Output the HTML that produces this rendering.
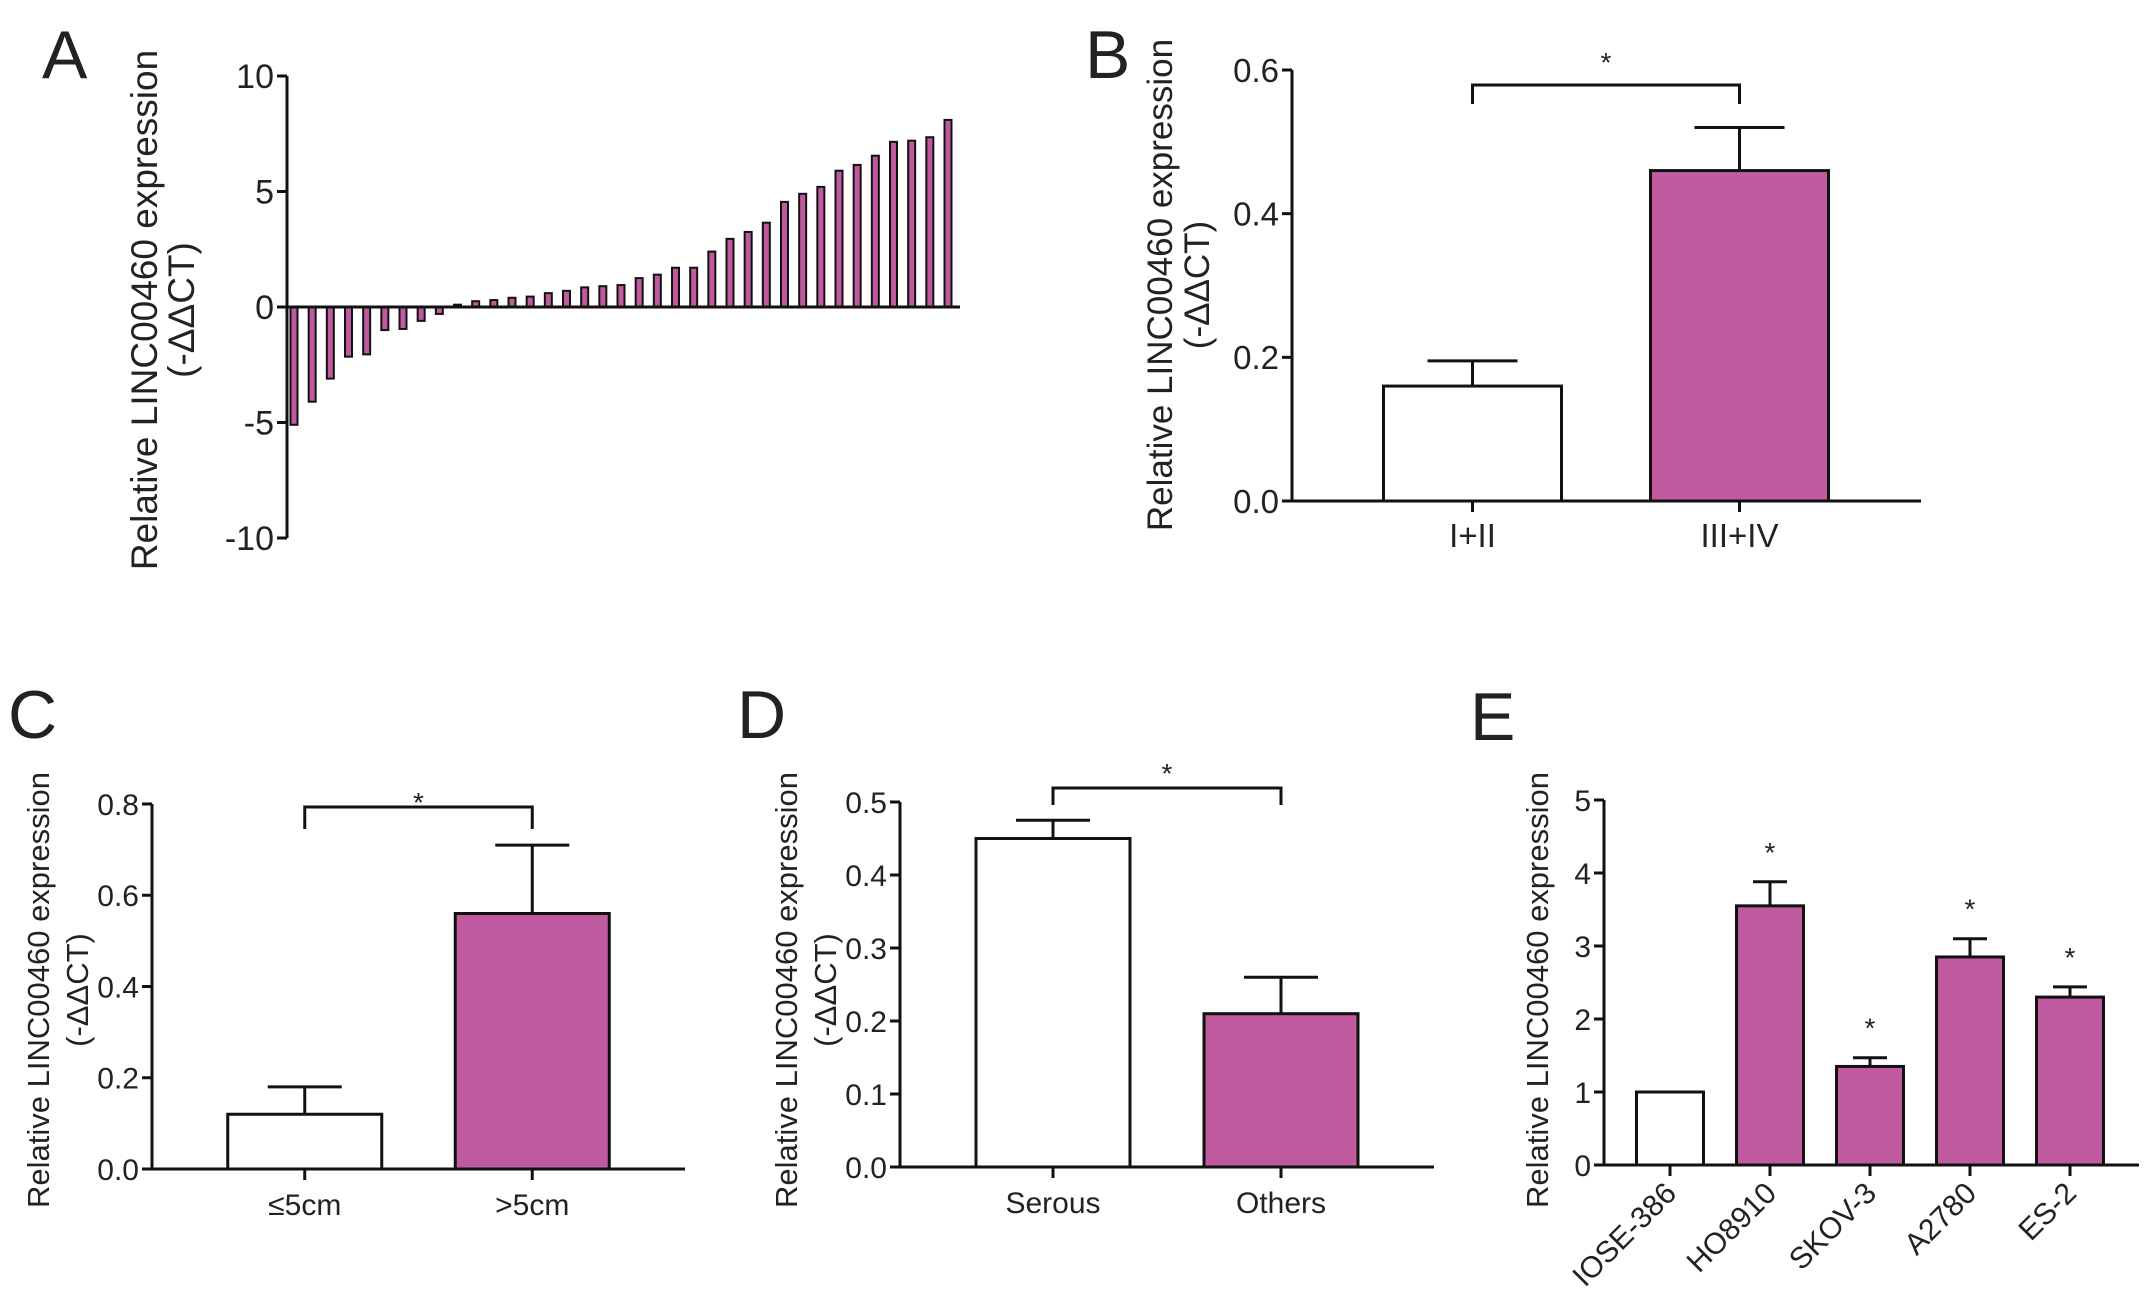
<!DOCTYPE html>
<html><head><meta charset="utf-8"><style>
html,body{margin:0;padding:0;background:#fff;}
svg{display:block;}
text{font-family:"Liberation Sans",sans-serif;fill:#222;}
</style></head><body>
<svg id="fig" width="2150" height="1299" viewBox="0 0 2150 1299" xmlns="http://www.w3.org/2000/svg"></svg>
<script>
// Panel A data
const aValues = [-5.1,-4.1,-3.1,-2.15,-2.05,-1.0,-0.95,-0.6,-0.3,
  0.1,0.25,0.3,0.4,0.45,0.6,0.7,0.85,0.9,0.95,1.25,1.4,1.7,1.7,2.4,2.95,3.25,3.65,4.55,4.9,5.2,5.9,6.15,6.55,7.15,7.2,7.35,8.1];
const aTicks = [10,5,0,-5,-10];
// Panel B
const bCats = ["I+II","III+IV"];
const bMeans = [0.16,0.46];
const bErr = [0.195,0.52];
const bTicks = [0,0.2,0.4,0.6];
// Panel C
const cCats = ["≤5cm",">5cm"];
const cMeans = [0.12,0.56];
const cErr = [0.18,0.71];
const cTicks = [0,0.2,0.4,0.6,0.8];
// Panel D
const dCats = ["Serous","Others"];
const dMeans = [0.45,0.21];
const dErr = [0.475,0.26];
const dTicks = [0,0.1,0.2,0.3,0.4,0.5];
// Panel E
const eCats = ["IOSE-386","HO8910","SKOV-3","A2780","ES-2"];
const eMeans = [1.0,3.55,1.35,2.85,2.3];
const eErr = [1.0,3.88,1.47,3.1,2.44];
const eStar = [false,true,true,true,true];
const eTicks = [0,1,2,3,4,5];

const NS="http://www.w3.org/2000/svg";
const svg=document.getElementById('fig');
const PINK="#c05a9e";
function el(tag,attrs,parent,txt){const e=document.createElementNS(NS,tag);for(const k in attrs)e.setAttribute(k,attrs[k]);if(txt!==undefined)e.textContent=txt;(parent||svg).appendChild(e);return e;}
function fmt(v,dec){return v.toFixed(dec);}

function label(txt,x,y,name){
  const t=el('text',{x:x,y:y,'font-size':68},svg,txt);
  
  
}
function yTitle(lines,xs,cy,name,fs){
  lines.forEach((ln,i)=>{
    const t=el('text',{x:xs[i],y:cy,'font-size':fs,'text-anchor':'middle',transform:`rotate(-90 ${xs[i]} ${cy})`},svg,ln);
    
    
  });
}
function yAxis(g,ax,y,ticks,dec,top,bot,fs){
  const l=el('line',{x1:ax,y1:top,x2:ax,y2:bot,stroke:'#111','stroke-width':3},g);
  
  
  ticks.forEach(v=>{
    el('line',{x1:ax-10,y1:y(v),x2:ax,y2:y(v),stroke:'#111','stroke-width':3},g);
    const t=el('text',{x:ax-13,y:y(v)+fs*0.36,'font-size':fs,'text-anchor':'end'},g,fmt(v,dec));
    
    
  });
}
function bracket(g,x1,x2,yTop,yDrop,starY){
  const p=el('path',{d:`M${x1} ${yDrop} V${yTop} H${x2} V${yDrop}`,fill:'none',stroke:'#111','stroke-width':3},g);
  
  
  const s=el('text',{x:(x1+x2)/2,y:starY+12,'font-size':28,'text-anchor':'middle'},g,'*');
  
  
}

function barPanel(cfg){
  const g=el('g',{});
  
  
  const fs=cfg.fs||29;
  const y=v=>cfg.y0+(cfg.yTop-cfg.y0)*(v-cfg.ticks[0])/(cfg.ticks[cfg.ticks.length-1]-cfg.ticks[0]);
  const n=cfg.cats.length;
  const step=(cfg.x1-cfg.x0)/n;
  const cx=i=>cfg.x0+step*(i+0.5);
  cfg.means.forEach((m,i)=>{
    const c=cx(i), hw=cfg.bw/2, ce=cfg.capw/2;
    const eb=el('path',{d:`M${c} ${y(m)} V${y(cfg.err[i])} M${c-ce} ${y(cfg.err[i])} H${c+ce}`,stroke:'#111','stroke-width':3,fill:'none'},g);
    
    
    const r=el('rect',{x:c-hw,y:y(m),width:cfg.bw,height:y(0)-y(m),fill:(i===0?'#fff':PINK),stroke:'#111','stroke-width':3},g);
    
    
    el('line',{x1:c,y1:y(0),x2:c,y2:y(0)+11,stroke:'#111','stroke-width':3},g);
    let t;
    if(cfg.rot){
      t=el('text',{x:c+8,y:y(0)+30,'font-size':fs,'text-anchor':'end',transform:`rotate(-45 ${c+8} ${y(0)+30})`},g,cfg.cats[i]);
    } else {
      t=el('text',{x:c,y:y(0)+46,'font-size':fs,'text-anchor':'middle'},g,cfg.cats[i]);
    }
    
    
    if(cfg.stars && cfg.stars[i]){
      const s=el('text',{x:c,y:y(cfg.err[i])-20,'font-size':28,'text-anchor':'middle'},g,'*');
      
      
    }
  });
  const xa=el('line',{x1:cfg.ax,y1:y(0),x2:cfg.xEnd,y2:y(0),stroke:'#111','stroke-width':3},g);
  
  
  yAxis(g,cfg.ax,y,cfg.ticks,cfg.dec,y(cfg.ticks[cfg.ticks.length-1]),y(0),fs);
  if(cfg.bracket) bracket(g,cx(0),cx(1),cfg.bracket[0],cfg.bracket[1],cfg.bracket[2]);
}

// ---- Panel A ----
(function(){
  label('A',42,78,'panel-label-a');
  yTitle(['Relative LINC00460 expression','(-ΔΔCT)'],[157,194],310,'y-axis-title-a',37);
  const g=el('g',{});
  
  
  const ax=287, y0=307, yTop=76;
  const y=v=>y0-(v/10)*(y0-yTop);
  const xFirst=294, xLast=948;
  const step=(xLast-xFirst)/(aValues.length-1);
  aValues.forEach((v,i)=>{
    const c=xFirst+step*i;
    const r=el('rect',{x:c-3.5,y:Math.min(y(v),y0),width:7,height:Math.abs(y(v)-y0),fill:PINK,stroke:'#111','stroke-width':2},g);
    
    
  });
  const xa=el('line',{x1:ax,y1:y0,x2:960,y2:y0,stroke:'#111','stroke-width':3},g);
  
  
  yAxis(g,ax,y,aTicks,0,y(10),y(-10),34);
})();

// ---- Panel B ----
label('B',1085,78,'panel-label-b');
yTitle(['Relative LINC00460 expression','(-ΔΔCT)'],[1172,1209],285,'y-axis-title-b',35);
barPanel({name:'panel-b-chart',cats:bCats,means:bMeans,err:bErr,ticks:bTicks,dec:1,fs:33,
  ax:1292,xEnd:1921,y0:501,yTop:70,x0:1339,x1:1873,bw:178,capw:90,bracket:[85,104,60]});

// ---- Panel C ----
label('C',8,738,'panel-label-c');
yTitle(['Relative LINC00460 expression','(-ΔΔCT)'],[49,88],990,'y-axis-title-c',31);
barPanel({name:'panel-c-chart',cats:cCats,means:cMeans,err:cErr,ticks:cTicks,dec:1,fs:30,
  ax:152,xEnd:685,y0:1169,yTop:804,x0:191,x1:646,bw:154,capw:74,bracket:[807,829,800]});

// ---- Panel D ----
label('D',737,738,'panel-label-d');
yTitle(['Relative LINC00460 expression','(-ΔΔCT)'],[797,836],990,'y-axis-title-d',31);
barPanel({name:'panel-d-chart',cats:dCats,means:dMeans,err:dErr,ticks:dTicks,dec:1,fs:30,
  ax:900,xEnd:1434,y0:1167,yTop:802,x0:939,x1:1395,bw:154,capw:74,bracket:[788,805,771]});

// ---- Panel E ----
label('E',1470,740,'panel-label-e');
yTitle(['Relative LINC00460 expression'],[1548],990,'y-axis-title-e',31);
barPanel({name:'panel-e-chart',cats:eCats,means:eMeans,err:eErr,ticks:eTicks,dec:0,fs:30,stars:eStar,rot:true,
  ax:1604,xEnd:2139,y0:1165,yTop:800,x0:1620,x1:2120,bw:67,capw:34});
</script>
</body></html>
